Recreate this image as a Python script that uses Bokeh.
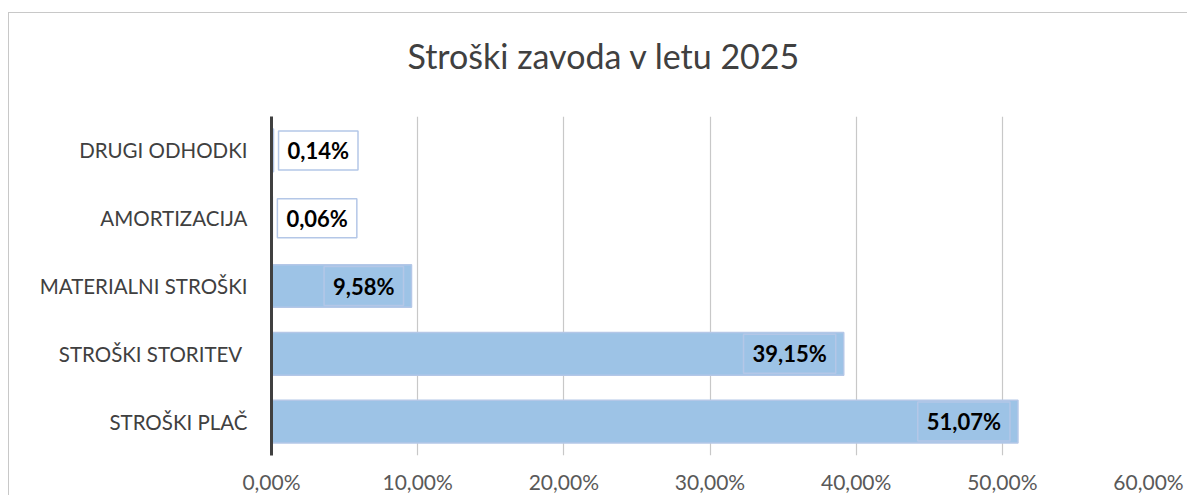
from bokeh.plotting import figure
from bokeh.models import (Range1d, FactorRange, FixedTicker, CustomJSTickFormatter,
                          ColumnDataSource, Title)
from bokeh.core.properties import value
from bokeh.embed import file_html
from bokeh.resources import INLINE

# ---- data ----
categories = ["STROŠKI PLAČ", "STROŠKI STORITEV ", "MATERIALNI STROŠKI", "AMORTIZACIJA", "DRUGI ODHODKI"]
shares = [51.07, 39.15, 9.58, 0.06, 0.14]
label_texts = ["51,07%", "39,15%", "9,58%", "0,06%", "0,14%"]
x_ticks = [0, 10, 20, 30, 40, 50, 60]
title_text = "Stroški zavoda v letu 2025"

FONT = "Lato"
BAR = "#9DC3E6"
BAR_LINE = "#B4C7E7"

p = figure(width=1179, height=483, output_backend="svg", toolbar_location=None,
           y_range=FactorRange(*categories, range_padding=0),
           x_range=Range1d(0, 60),
           min_border_left=262, min_border_right=40, min_border_top=103, min_border_bottom=38)
p.margin = (12, 0, 0, 8)
p.styles = {"border-top": "1.5px solid #C8C8C8", "border-left": "1.5px solid #C8C8C8"}

# spacer between frame and title, then the title itself
p.add_layout(Title(text=" ", text_font_size="1px", standoff=33), "above")
p.add_layout(Title(text=title_text, align="left", offset=136, vertical_align="bottom",
                   standoff=10, text_font=FONT, text_font_size="34px",
                   text_font_style="normal", text_color="#404040"), "above")

p.outline_line_color = None
p.background_fill_color = "white"
p.border_fill_color = "white"

src = ColumnDataSource(dict(cat=categories, val=shares, lab=label_texts))
p.hbar(y="cat", right="val", left=0, height=0.63, source=src,
       fill_color=BAR, line_color=BAR_LINE, line_width=1.5)

inside = [i for i, v in enumerate(shares) if v >= 5]
outside = [i for i, v in enumerate(shares) if v < 5]
src_in = ColumnDataSource(dict(cat=[categories[i] for i in inside], val=[shares[i] for i in inside],
                               lab=[label_texts[i] for i in inside]))
src_out = ColumnDataSource(dict(cat=[categories[i] for i in outside], val=[shares[i] for i in outside],
                                lab=[label_texts[i] for i in outside]))

common = dict(text="lab", text_font=value(FONT), text_font_style="bold", text_font_size="22px",
              text_color="black", text_baseline="middle", padding=(9, 6),
              border_line_color=BAR_LINE, border_line_width=1.5)
p.text(x="val", y="cat", source=src_in, text_align="right", x_offset=-8,
       background_fill_color=BAR, **common)
p.text(x="val", y="cat", source=src_out, text_align="left", x_offset=5,
       background_fill_color="white", **common)

# axes
xa = p.xaxis[0]
xa.ticker = FixedTicker(ticks=x_ticks)
xa.formatter = CustomJSTickFormatter(code="return tick.toFixed(2).replace('.', ',') + '%';")
xa.axis_line_color = None
xa.major_tick_line_color = None
xa.minor_tick_line_color = None
xa.major_tick_out = 0
xa.major_tick_in = 0
xa.major_label_text_font = FONT
xa.major_label_text_font_size = "21px"
xa.major_label_text_color = "#595959"
xa.major_label_standoff = 13

ya = p.yaxis[0]
ya.axis_line_color = "#404040"
ya.axis_line_width = 3
ya.major_tick_line_color = None
ya.minor_tick_line_color = None
ya.major_tick_out = 0
ya.major_tick_in = 0
ya.major_label_text_font = FONT
ya.major_label_text_font_size = "20.5px"
ya.major_label_text_color = "#404040"
ya.major_label_standoff = 24

p.xgrid.grid_line_color = "#C8C8C8"
p.xgrid.grid_line_width = 1.2
p.ygrid.grid_line_color = None

open("out.html", "w").write(file_html(p, INLINE))
